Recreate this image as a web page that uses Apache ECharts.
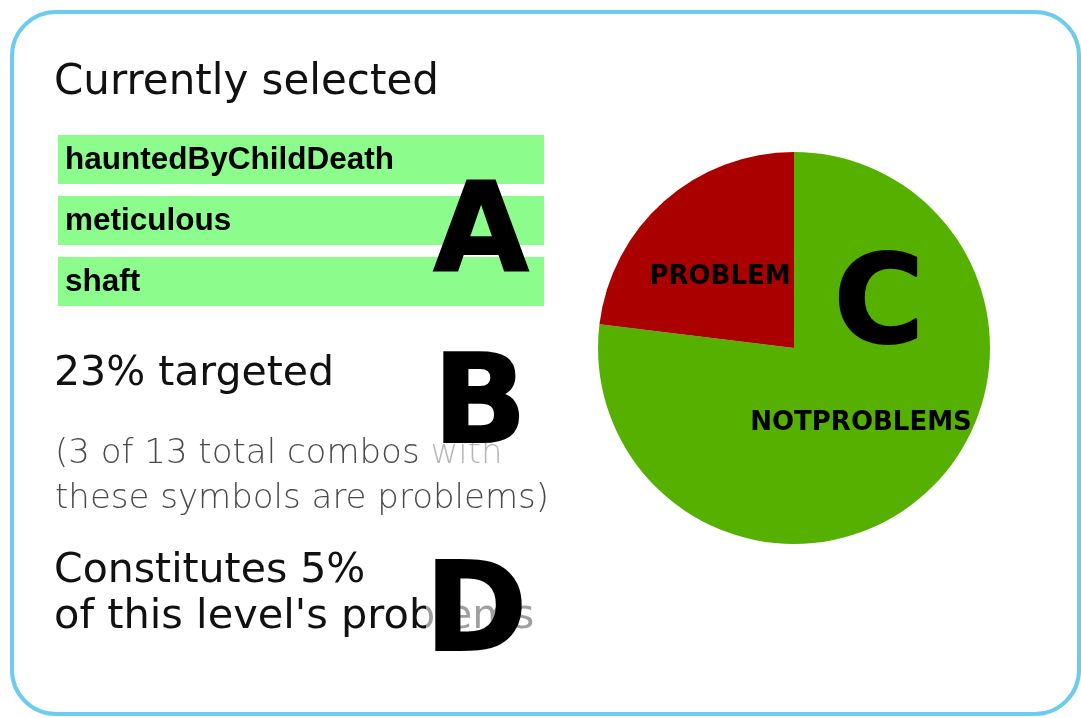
<!DOCTYPE html>
<html>
<head>
<meta charset="utf-8">
<script src="https://cdn.jsdelivr.net/npm/echarts@6/dist/echarts.min.js"></script>
<style>
  html, body { margin: 0; padding: 0; background: #ffffff; }
  #chart { width: 1081px; height: 718px; }
</style>
</head>
<body>
<div id="chart"></div>
<script>
// ---- data ----
const selectedSymbols = ['hauntedByChildDeath', 'meticulous', 'shaft'];
const pieNames = ['NOTPROBLEMS', 'PROBLEM'];
const pieValues = [10, 3];
const pieColors = ['#56b000', '#aa0000'];
const problemCombos = 3;
const totalCombos = 13;
const levelSharePct = 5;
const markerLetters = ['A', 'B', 'C', 'D'];

const targetedPct = Math.round(problemCombos / totalCombos * 100);

const chart = echarts.init(document.getElementById('chart'), null, { renderer: 'canvas' });

const headFont = '"DejaVu Sans", sans-serif';
const elements = [];

// card border
elements.push({
  type: 'rect', z: 0,
  shape: { x: 12, y: 12, width: 1067, height: 702, r: 44 },
  style: { fill: '#ffffff', stroke: '#6ccbef', lineWidth: 4 }
});

// heading
elements.push({
  type: 'text', z: 5, x: 54, y: 83,
  style: { text: 'Currently selected', font: 'normal 42px ' + headFont, fill: '#111111', verticalAlign: 'middle', align: 'left' }
});

// green symbol boxes
const boxTops = [135, 196, 257];
selectedSymbols.forEach((s, i) => {
  elements.push({
    type: 'rect', z: 3,
    shape: { x: 58, y: boxTops[i], width: 486, height: 49 },
    style: { fill: '#8cfc8c' }
  });
  elements.push({
    type: 'text', z: 5, x: 65, y: boxTops[i] + 25,
    style: { text: s, font: 'bold 31.5px "Liberation Sans", Arial, sans-serif', fill: '#000000', verticalAlign: 'middle', align: 'left' }
  });
});

// targeted stats
elements.push({
  type: 'text', z: 5, x: 54, y: 374,
  style: { text: targetedPct + '% targeted', font: 'normal 41px ' + headFont, fill: '#111111', verticalAlign: 'middle' }
});
elements.push({
  type: 'text', z: 5, x: 55, y: 454,
  style: { text: '(' + problemCombos + ' of ' + totalCombos + ' total combos with', font: '200 34px ' + headFont, fill: '#4a4a4a', verticalAlign: 'middle' }
});
elements.push({
  type: 'text', z: 5, x: 55, y: 499,
  style: { text: 'these symbols are problems)', font: '200 34px ' + headFont, fill: '#4a4a4a', verticalAlign: 'middle' }
});
elements.push({
  type: 'text', z: 5, x: 54, y: 571,
  style: { text: 'Constitutes ' + levelSharePct + '%', font: 'normal 41px ' + headFont, fill: '#111111', verticalAlign: 'middle' }
});
elements.push({
  type: 'text', z: 5, x: 54, y: 617,
  style: { text: "of this level's problems", font: 'normal 41.5px ' + headFont, fill: '#111111', verticalAlign: 'middle' }
});

// faded veils behind B and D
elements.push({ type: 'rect', z: 6, shape: { x: 424, y: 340, width: 102, height: 135 }, style: { fill: 'rgba(255,255,255,0.6)' } });
elements.push({ type: 'rect', z: 6, shape: { x: 426, y: 548, width: 120, height: 112 }, style: { fill: 'rgba(255,255,255,0.6)' } });

// big marker letters
const letterPos = [[481, 238], [480, 410], [879, 310], [476, 618]];
markerLetters.forEach((L, i) => {
  elements.push({
    type: 'text', z: 10, x: letterPos[i][0], y: letterPos[i][1],
    style: { text: L, font: 'bold 123px "DejaVu Sans", sans-serif', fill: '#000000', stroke: '#000000', lineWidth: 2, align: 'center', verticalAlign: 'middle' }
  });
});

const option = {
  backgroundColor: '#ffffff',
  animation: false,
  graphic: { elements: elements },
  series: [{
    type: 'pie',
    z: 4,
    center: [794, 348],
    radius: [0, 196],
    startAngle: 90,
    clockwise: true,
    label: {
      show: true,
      position: 'inside',
      color: '#000000',
      fontFamily: '"DejaVu Sans", sans-serif',
      fontWeight: 'bold',
      fontSize: 26,
      formatter: '{b}'
    },
    labelLine: { show: false },
    itemStyle: { borderWidth: 0 },
    emphasis: { disabled: true },
    data: pieNames.map((n, i) => ({
      name: n, value: pieValues[i], itemStyle: { color: pieColors[i] },
      label: i === 1 ? { offset: [-7, 5] } : {}
    }))
  }]
};
chart.setOption(option);
</script>
</body>
</html>
